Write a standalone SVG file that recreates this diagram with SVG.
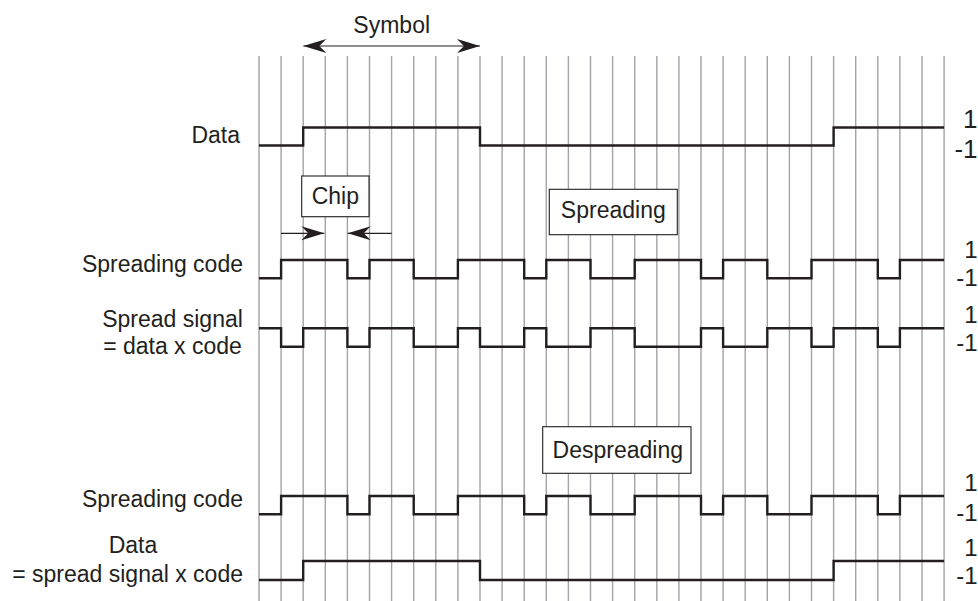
<svg xmlns="http://www.w3.org/2000/svg" width="978" height="601" viewBox="0 0 978 601">
  <style>
    text { font-family: "Liberation Sans", Arial, sans-serif; fill: #231f20; }
    .lbl { font-size: 23px; }
    .lvl { font-size: 24px; text-anchor: end; }
    .lvl-big { font-size: 26px; text-anchor: end; }
    .grid { stroke: #a3a3a9; stroke-width: 1.4; fill: none; }
    .wave { stroke: #231f20; stroke-width: 2.4; fill: none; stroke-linejoin: miter; stroke-linecap: butt; }
    .box { fill: #ffffff; stroke: #231f20; stroke-width: 1.1; }
    .arrow { stroke: #231f20; stroke-width: 1.2; fill: none; }
  </style>
  <defs>
    <marker id="head" viewBox="-24 -8 25 16" refX="0" refY="0" markerUnits="userSpaceOnUse" markerWidth="25" markerHeight="16" orient="auto-start-reverse" overflow="visible">
      <path d="M0,0 L-23,-7 L-16,0 L-23,7 Z" fill="#231f20"/>
    </marker>
  </defs>

  <rect x="0" y="0" width="978" height="601" fill="#ffffff"/>

  <!-- chip time grid: 32 boundaries, 22.1 px apart -->
  <g id="grid" class="grid">
    <path d="M259,56V601 M281.1,56V601 M303.2,56V601 M325.3,56V601 M347.4,56V601 M369.5,56V601 M391.6,56V601 M413.7,56V601 M435.8,56V601 M457.9,56V601 M480,56V601 M502.1,56V601 M524.2,56V601 M546.3,56V601 M568.4,56V601 M590.5,56V601 M612.6,56V601 M634.7,56V601 M656.8,56V601 M678.9,56V601 M701,56V601 M723.1,56V601 M745.2,56V601 M767.3,56V601 M789.4,56V601 M811.5,56V601 M833.6,56V601 M855.7,56V601 M877.8,56V601 M899.9,56V601 M922,56V601 M944.1,56V601"/>
  </g>

  <!-- input data -->
  <g id="data-in">
    <text class="lbl" x="240" y="142.7" text-anchor="end">Data</text>
    <path class="wave" d="M259,145.5 H303.2 V127.5 H480 V145.5 H833.6 V127.5 H944.1"/>
    <text class="lvl-big" x="977.5" y="128">1</text>
    <text class="lvl-big" x="977.5" y="158">-1</text>
  </g>

  <!-- spreading code -->
  <g id="code-tx">
    <text class="lbl" x="243" y="271.7" text-anchor="end">Spreading code</text>
    <path class="wave" d="M259,278.3 H281.1 V260 H347.4 V278.3 H369.5 V260 H413.7 V278.3 H457.9 V260 H524.2 V278.3 H546.3 V260 H590.5 V278.3 H634.7 V260 H701 V278.3 H723.1 V260 H767.3 V278.3 H811.5 V260 H877.8 V278.3 H899.9 V260 H944.1"/>
    <text class="lvl" x="977.5" y="257.5">1</text>
    <text class="lvl" x="977.5" y="285.5">-1</text>
  </g>

  <!-- spread signal -->
  <g id="spread">
    <text class="lbl" x="172.5" y="326.7" text-anchor="middle">Spread signal</text>
    <text class="lbl" x="172.5" y="354.3" text-anchor="middle">= data x code</text>
    <path class="wave" d="M259,328.3 H281.1 V346.7 H303.2 V328.3 H347.4 V346.7 H369.5 V328.3 H413.7 V346.7 H457.9 V328.3 H480 V346.7 H524.2 V328.3 H546.3 V346.7 H590.5 V328.3 H634.7 V346.7 H701 V328.3 H723.1 V346.7 H767.3 V328.3 H811.5 V346.7 H833.6 V328.3 H877.8 V346.7 H899.9 V328.3 H944.1"/>
    <text class="lvl" x="977.5" y="322.8">1</text>
    <text class="lvl" x="977.5" y="350.5">-1</text>
  </g>

  <!-- spreading code at the receiver -->
  <g id="code-rx">
    <text class="lbl" x="243" y="506.7" text-anchor="end">Spreading code</text>
    <path class="wave" d="M259,514.3 H281.1 V496 H347.4 V514.3 H369.5 V496 H413.7 V514.3 H457.9 V496 H524.2 V514.3 H546.3 V496 H590.5 V514.3 H634.7 V496 H701 V514.3 H723.1 V496 H767.3 V514.3 H811.5 V496 H877.8 V514.3 H899.9 V496 H944.1"/>
    <text class="lvl" x="977.5" y="491.2">1</text>
    <text class="lvl" x="977.5" y="520.5">-1</text>
  </g>

  <!-- recovered data -->
  <g id="data-out">
    <text class="lbl" x="133" y="553.3" text-anchor="middle">Data</text>
    <text class="lbl" x="243" y="582.3" text-anchor="end">= spread signal x code</text>
    <path class="wave" d="M259,580 H303.2 V561 H480 V580 H833.6 V561 H944.1"/>
    <text class="lvl" x="977.5" y="556.2">1</text>
    <text class="lvl" x="977.5" y="583.8">-1</text>
  </g>

  <!-- captions -->
  <g id="chip">
    <rect class="box" x="301.7" y="176" width="67.3" height="40.7"/>
    <text class="lbl" x="335.3" y="204.3" text-anchor="middle">Chip</text>
  </g>
  <g id="spreading">
    <rect class="box" x="549.3" y="189.3" width="128" height="45.4"/>
    <text class="lbl" x="613.3" y="218.3" text-anchor="middle">Spreading</text>
  </g>
  <g id="despreading">
    <rect class="box" x="542.7" y="426.7" width="148.3" height="46.6"/>
    <text class="lbl" x="617.8" y="458.3" text-anchor="middle">Despreading</text>
  </g>
  <g id="symbol">
    <text class="lbl" x="391.7" y="33.3" text-anchor="middle">Symbol</text>
  </g>

  <!-- dimension arrows -->
  <g id="connectors">
    <line class="arrow" x1="303.3" y1="46" x2="480" y2="46" marker-start="url(#head)" marker-end="url(#head)"/>
    <line class="arrow" x1="281" y1="233.3" x2="324.3" y2="233.3" marker-end="url(#head)"/>
    <line class="arrow" x1="391.7" y1="233.3" x2="347.7" y2="233.3" marker-end="url(#head)"/>
  </g>
</svg>
